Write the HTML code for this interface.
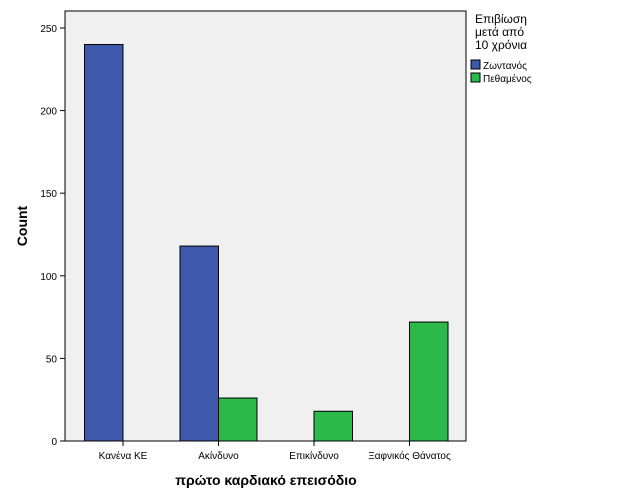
<!DOCTYPE html>
<html><head><meta charset="utf-8"><style>
body{margin:0;background:#fff;}
svg{display:block;font-family:"Liberation Sans","DejaVu Sans",sans-serif;}
</style></head><body>
<svg id="chart" width="626" height="501">
<rect x="65" y="11" width="401" height="430" fill="#f0f0f0" stroke="#000" stroke-width="1"/>
<g id="bars"></g>
<g id="axes"></g>
<text x="27" y="226" font-size="14" font-weight="bold" text-anchor="middle" transform="rotate(-90 27 226)">Count</text>
<text x="266" y="485" font-size="14" font-weight="bold" text-anchor="middle">πρώτο καρδιακό επεισόδιο</text>
<g>
<text x="475" y="23" font-size="12">Επιβίωση</text>
<text x="475" y="36" font-size="12">μετά από</text>
<text x="475" y="49" font-size="12">10 χρόνια</text>
<rect x="471" y="60" width="9" height="9" fill="#3e58ac" stroke="#000"/>
<text x="483" y="69" font-size="10">Ζωντανός</text>
<rect x="471" y="73" width="9" height="9" fill="#2db84a" stroke="#000"/>
<text x="483" y="82" font-size="10">Πεθαμένος</text>
</g>
</svg>
<script>
const categories=["Κανένα ΚΕ","Ακίνδυνο","Επικίνδυνο","Ξαφνικός Θάνατος"];
const aliveValues=[240,118,0,0];
const deadValues=[0,26,18,72];
const yTicks=[0,50,100,150,200,250];
const ns="http://www.w3.org/2000/svg";
const y0=441,pxPer=413/250;
function yScale(v){return y0-v*pxPer;}
function xCenter(i){return 123+i*95.5;}
const bw=38.5;
const bars=document.getElementById('bars'),axes=document.getElementById('axes');
function mk(tag,attrs,parent){const e=document.createElementNS(ns,tag);for(const k in attrs)e.setAttribute(k,attrs[k]);parent.appendChild(e);return e;}
categories.forEach((c,i)=>{
  const cx=xCenter(i);
  if(aliveValues[i]>0){
    const r=mk('rect',{x:cx-bw,y:yScale(aliveValues[i]),width:bw,height:y0-yScale(aliveValues[i]),fill:'#3e58ac',stroke:'#000','stroke-width':1},bars);
    
    
  }
  if(deadValues[i]>0){
    const r=mk('rect',{x:cx,y:yScale(deadValues[i]),width:bw,height:y0-yScale(deadValues[i]),fill:'#2db84a',stroke:'#000','stroke-width':1},bars);
    
    
  }
  const t=mk('line',{x1:cx,x2:cx,y1:y0,y2:y0+5,stroke:'#000'},axes);
  
  
  const l=mk('text',{x:cx,y:y0+18,'font-size':10,'text-anchor':'middle'},axes);
  l.textContent=c;
  
  
});
yTicks.forEach(v=>{
  const y=yScale(v);
  const t=mk('line',{x1:60,x2:65,y1:y,y2:y,stroke:'#000'},axes);
  
  
  const l=mk('text',{x:57,y:y+4,'font-size':10,'text-anchor':'end'},axes);
  l.textContent=v;
  
  
});
</script>
</body></html>
